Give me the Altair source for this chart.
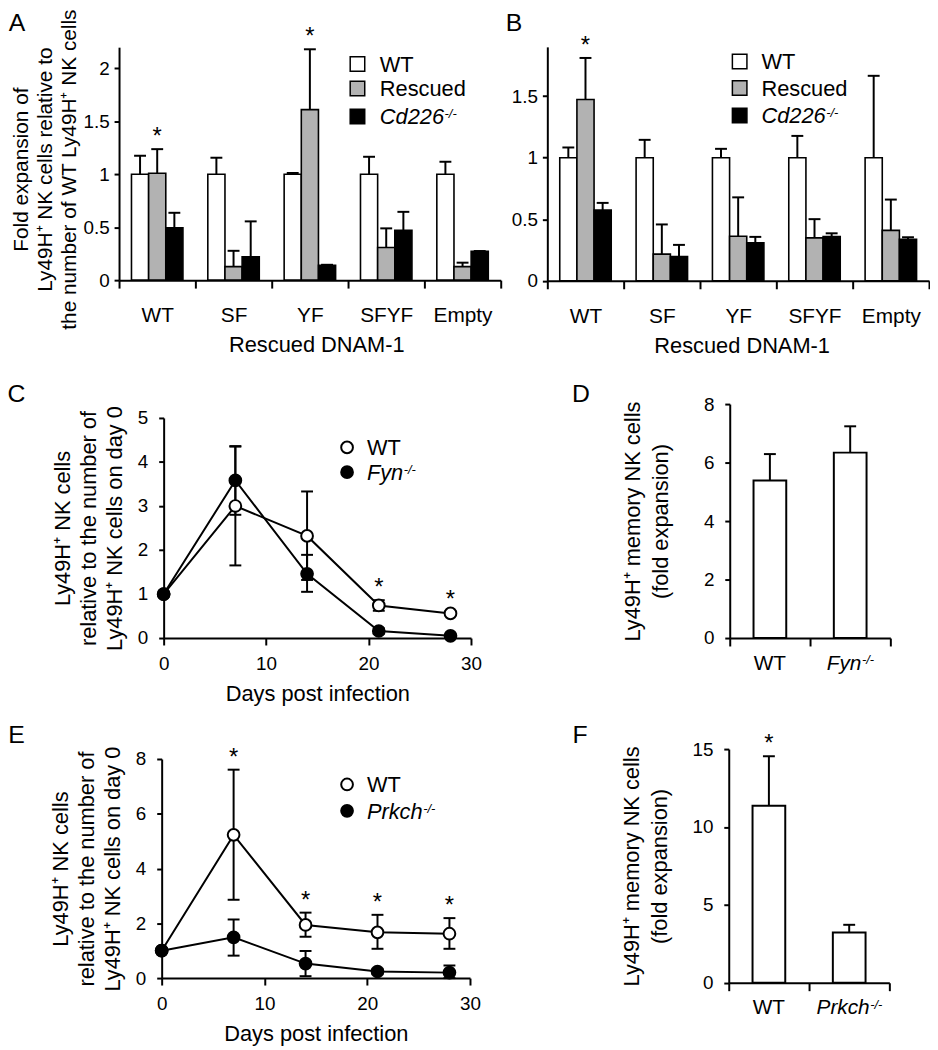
import altair as alt
import pandas as pd

FONT = "Liberation Sans"
GRAY = "#b2b2b2"
W, H = 930, 1040   # drawing area; page position = drawing position + 8

# ---------------- data ----------------
cats = ["WT", "SF", "YF", "SFYF", "Empty"]
groups = ["WT", "Rescued", "Cd226-/-"]

a_wt = [1.00, 1.00, 1.00, 1.00, 1.00]
a_wt_top = [1.174, 1.156, 1.012, 1.165, 1.118]
a_res = [1.01, 0.128, 1.61, 0.308, 0.128]
a_res_top = [1.237, 0.277, 2.18, 0.489, 0.165]
a_ko = [0.495, 0.221, 0.14, 0.47, 0.272]
a_ko_top = [0.636, 0.555, 0.145, 0.645, 0.275]
a_star_cats = ["WT", "YF"]
a_ticks = [0, 0.5, 1, 1.5, 2]

b_wt = [1.00, 1.00, 1.00, 1.00, 1.00]
b_wt_top = [1.083, 1.145, 1.072, 1.177, 1.665]
b_res = [1.472, 0.217, 0.362, 0.349, 0.41]
b_res_top = [1.81, 0.458, 0.678, 0.501, 0.66]
b_ko = [0.574, 0.198, 0.308, 0.359, 0.338]
b_ko_top = [0.633, 0.292, 0.357, 0.386, 0.354]
b_star_cats = ["WT"]
b_ticks = [0, 0.5, 1, 1.5]

days = [0, 7, 14, 21, 28]
c_wt = [1.0, 3.0, 2.32, 0.74, 0.56]
c_wt_lo = [1.0, 1.65, 1.32, 0.62, 0.52]
c_wt_hi = [1.0, 4.35, 3.33, 0.86, 0.60]
c_ko = [1.0, 3.58, 1.46, 0.16, 0.05]
c_ko_lo = [1.0, 2.80, 1.05, 0.10, 0.02]
c_ko_hi = [1.0, 4.36, 1.89, 0.22, 0.08]
c_star_days = [21, 28]
c_ticks = [0, 1, 2, 3, 4, 5]

d_cats = ["WT", "Fyn-/-"]
d_vals = [5.39, 6.34]
d_top = [6.29, 7.24]
d_ticks = [0, 2, 4, 6, 8]

e_wt = [1.0, 5.23, 1.94, 1.67, 1.62]
e_wt_lo = [1.0, 2.86, 1.51, 1.07, 1.07]
e_wt_hi = [1.0, 7.61, 2.39, 2.31, 2.19]
e_ko = [1.0, 1.49, 0.53, 0.24, 0.20]
e_ko_lo = [1.0, 0.82, 0.07, 0.14, 0.0]
e_ko_hi = [1.0, 2.14, 0.99, 0.34, 0.46]
e_star_days = [7, 14, 21, 28]
e_ticks = [0, 2, 4, 6, 8]

f_cats = ["WT", "Prkch-/-"]
f_vals = [11.36, 3.23]
f_top = [14.54, 3.72]
f_ticks = [0, 5, 10, 15]

day_ticks = [0, 10, 20, 30]

# ---------------- helpers ----------------
DUMMY = pd.DataFrame({"k": [0]})
CW = {"W": 944, "T": 611, "F": 611, "y": 500, "n": 556, "P": 667, "r": 333, "k": 500,
      "c": 500, "h": 556, "C": 722, "d": 556, "2": 556, "6": 556, "-": 333, "/": 278}


def tw(s, size):
    return sum(CW.get(ch, 556) for ch in s) / 1000.0 * size


def ax(**kw):
    base = dict(grid=False, domainColor="black", domainWidth=2, tickColor="black", tickWidth=2,
                labelColor="black", titleColor="black", labelFont=FONT, titleFont=FONT,
                labelFontSize=19, titleFontSize=22, titleFontWeight="normal", labelFlush=False)
    base.update(kw)
    return alt.Axis(**base)


def txt(s, x, y, size=22, align="left", baseline="alphabetic", italic=False):
    return alt.Chart(DUMMY).mark_text(
        text=s, font=FONT, fontSize=size, align=align, baseline=baseline,
        fontStyle="italic" if italic else "normal", color="black"
    ).encode(x=alt.value(x), y=alt.value(y))


def label_with_sup(main, sup, x, yc, size=22, sup_size=13):
    base_y = yc + 0.358 * size
    return [txt(main, x, base_y, size=size, italic=True),
            txt(sup, x + tw(main, size) + 0.5, base_y - 6, size=sup_size, italic=True)]


def letter(s, x, y):
    return txt(s, x, y, size=25, align="center", baseline="middle")


def grouped_panel(wt, wt_top, res, res_top, ko, ko_top, star_cats, ymax, ticks, ytitle,
                  xr, yr, leg_x, leg_tx, leg_ys, title_y=None, xtitle_x=None):
    rows = []
    for g, vals, tops in zip(groups, [wt, res, ko], [wt_top, res_top, ko_top]):
        for c, v, t in zip(cats, vals, tops):
            rows.append(dict(cat=c, group=g, value=v, top=t))
    df = pd.DataFrame(rows)
    stars = df[(df["group"] == "Rescued") & (df["cat"].isin(star_cats))]
    ykw = dict(values=ticks, format="~g", tickSize=5, labelPadding=5, titlePadding=3,
               titleLineHeight=24.5, titleFontSize=21, title=ytitle, orient="left", offset=-xr[0])
    if title_y is not None:
        ykw["titleY"] = title_y
    xkw = dict(title="Rescued DNAM-1", labelAngle=0, tickBand="extent", tickSize=8,
               labelPadding=17, titlePadding=9, labelFontSize=21, orient="bottom",
               offset=-(H - yr[0]))
    if xtitle_x is not None:
        xkw["titleX"] = xtitle_x
    X = alt.X("cat:N", sort=cats, scale=alt.Scale(paddingInner=0, paddingOuter=0, range=list(xr)),
              axis=ax(**xkw))
    XO = alt.XOffset("group:N", sort=groups, scale=alt.Scale(paddingInner=0, paddingOuter=0.725))

    def Y(f):
        return alt.Y(f, type="quantitative",
                     scale=alt.Scale(domain=[0, ymax], nice=False, range=list(yr)),
                     axis=ax(**ykw))

    base = alt.Chart(df)
    bars = base.mark_bar(stroke="black", strokeWidth=1.6).encode(
        x=X, xOffset=XO, y=Y("value"),
        fill=alt.Fill("group:N", scale=alt.Scale(domain=groups, range=["white", GRAY, "black"]),
                      legend=None))
    err = base.mark_rule(color="black", strokeWidth=2).encode(
        x=X, xOffset=XO, y=Y("value"), y2="top:Q")
    cap = base.mark_tick(color="black", orient="horizontal", size=12, thickness=2, opacity=1).encode(
        x=X, xOffset=XO, y=Y("top"))
    star = alt.Chart(stars).mark_text(text="*", font=FONT, fontSize=24, baseline="bottom",
                                      color="black").encode(x=X, xOffset=XO, y=Y("top"))
    return alt.layer(bars, err, cap, star), legend_squares(leg_x, leg_tx, leg_ys)


def legend_squares(leg_x, leg_tx, leg_ys):
    layers = []
    for fcol, y in zip(["white", GRAY, "black"], leg_ys):
        layers.append(alt.Chart(DUMMY).mark_square(size=215, fill=fcol, stroke="black",
                                                   strokeWidth=1.5, opacity=1).encode(
            x=alt.value(leg_x), y=alt.value(y)))
    layers.append(txt("WT", leg_tx, leg_ys[0] + 7.9))
    layers.append(txt("Rescued", leg_tx, leg_ys[1] + 7.9))
    layers += label_with_sup("Cd226", "-/-", leg_tx, leg_ys[2])
    return layers


def line_panel(wt, wt_lo, wt_hi, ko, ko_lo, ko_hi, ko_name, star_days, ymax, ticks,
               xr, yr, leg_x, leg_tx, leg_ys):
    rows = []
    for s, v, lo, hi in [("WT", wt, wt_lo, wt_hi), (ko_name, ko, ko_lo, ko_hi)]:
        for d, a, b, c in zip(days, v, lo, hi):
            rows.append(dict(day=d, series=s, value=a, lo=b, hi=c))
    df = pd.DataFrame(rows)
    stars = df[(df["series"] == "WT") & (df["day"].isin(star_days))]
    X = alt.X("day:Q", scale=alt.Scale(domain=[0, 30], nice=False, range=list(xr)),
              axis=ax(values=day_ticks, title="Days post infection", tickSize=7,
                      labelPadding=9.5, titlePadding=10.5, orient="bottom", offset=-(H - yr[0])))
    ytitle = ["Ly49H\u207a NK cells", "relative to the number of", "Ly49H\u207a NK cells on day 0"]

    def Y(f):
        return alt.Y(f, type="quantitative",
                     scale=alt.Scale(domain=[0, ymax], nice=False, range=list(yr)),
                     axis=ax(values=ticks, title=ytitle, tickSize=5, labelPadding=11,
                             titlePadding=11, titleLineHeight=26, orient="left", offset=-xr[0]))

    base = alt.Chart(df)
    line = base.mark_line(color="black", strokeWidth=2).encode(x=X, y=Y("value"), detail="series:N")
    err = base.mark_rule(color="black", strokeWidth=2).encode(x=X, y=Y("lo"), y2="hi:Q")
    cap_hi = base.mark_tick(color="black", orient="horizontal", size=12, thickness=2, opacity=1).encode(
        x=X, y=Y("hi"))
    cap_lo = base.mark_tick(color="black", orient="horizontal", size=12, thickness=2, opacity=1).encode(
        x=X, y=Y("lo"))
    pts_wt = base.transform_filter(alt.datum.series == "WT").mark_circle(
        size=140, fill="white", stroke="black", strokeWidth=2, opacity=1).encode(x=X, y=Y("value"))
    pts_ko = base.transform_filter(alt.datum.series == ko_name).mark_circle(
        size=140, fill="black", stroke="black", strokeWidth=2, opacity=1).encode(x=X, y=Y("value"))
    star = alt.Chart(stars).mark_text(text="*", font=FONT, fontSize=24, baseline="bottom",
                                      color="black").encode(x=X, y=Y("hi"))
    legend = []
    for fcol, y in zip(["white", "black"], leg_ys):
        legend.append(alt.Chart(DUMMY).mark_circle(size=140, fill=fcol, stroke="black",
                                                   strokeWidth=2, opacity=1).encode(
            x=alt.value(leg_x), y=alt.value(y)))
    legend.append(txt("WT", leg_tx, leg_ys[0] + 7.9))
    legend += label_with_sup(ko_name, "-/-", leg_tx, leg_ys[1])
    return alt.layer(line, err, cap_hi, cap_lo, pts_wt, pts_ko, star), legend


def bar2_panel(cats2, vals, tops, star_cats, ymax, ticks, tpad, xr, yr):
    df = pd.DataFrame({"cat": cats2, "value": vals, "top": tops,
                       "main": [c.replace("-/-", "") for c in cats2]})
    stars = df[df["cat"].isin(star_cats)]
    X = alt.X("cat:N", sort=cats2, scale=alt.Scale(paddingInner=0, paddingOuter=0, range=list(xr)),
              axis=ax(labels=False, title=None, tickBand="extent", tickSize=8, orient="bottom",
                      offset=-(H - yr[0])))
    ytitle = ["Ly49H\u207a memory NK cells", "(fold expansion)"]

    def Y(f):
        return alt.Y(f, type="quantitative",
                     scale=alt.Scale(domain=[0, ymax], nice=False, range=list(yr)),
                     axis=ax(values=ticks, title=ytitle, tickSize=5, labelPadding=11,
                             titlePadding=tpad, titleLineHeight=28, orient="left", offset=-xr[0]))

    base = alt.Chart(df)
    bars = base.mark_bar(width=33, fill="white", stroke="black", strokeWidth=2).encode(x=X, y=Y("value"))
    err = base.mark_rule(color="black", strokeWidth=2).encode(x=X, y=Y("value"), y2="top:Q")
    cap = base.mark_tick(color="black", orient="horizontal", size=12, thickness=2, opacity=1).encode(
        x=X, y=Y("top"))
    layers = [bars, err, cap]
    if len(stars):
        layers.append(alt.Chart(stars).mark_text(text="*", font=FONT, fontSize=24, baseline="bottom",
                                                 color="black").encode(x=X, y=Y("top")))
    ly = yr[0] + 32
    layers.append(base.transform_filter(alt.datum.cat == cats2[0]).mark_text(
        font=FONT, fontSize=21, align="center", baseline="alphabetic", color="black").encode(
        x=X, y=alt.value(ly), text="main:N"))
    mut = cats2[1].replace("-/-", "")
    wm = tw(mut, 21)
    T = wm + tw("-/-", 13)
    layers.append(base.transform_filter(alt.datum.cat == cats2[1]).mark_text(
        font=FONT, fontSize=21, align="left", baseline="alphabetic", fontStyle="italic",
        dx=-T / 2, color="black").encode(x=X, y=alt.value(ly), text="main:N"))
    layers.append(base.transform_filter(alt.datum.cat == cats2[1]).mark_text(
        text="-/-", font=FONT, fontSize=13, align="left", baseline="alphabetic", fontStyle="italic",
        dx=-T / 2 + wm + 0.5, color="black").encode(x=X, y=alt.value(ly - 6)))
    return alt.layer(*layers)


# ---------------- panels (pixel ranges in drawing coordinates) ----------------
A, legA = grouped_panel(a_wt, a_wt_top, a_res, a_res_top, a_ko, a_ko_top, a_star_cats, 2.2, a_ticks,
                        ["Fold expansion of", "Ly49H\u207a NK cells relative to",
                         "the number of WT Ly49H\u207a NK cells"],
                        (112, 497), (270, 35), 352.5, 375, [52, 76.7, 105], title_y=158,
                        xtitle_x=311)
B, legB = grouped_panel(b_wt, b_wt_top, b_res, b_res_top, b_ko, b_ko_top, b_star_cats, 1.9, b_ticks,
                        None, (544, 929), (270.7, 34.7), 738, 760, [49.5, 76.2, 104],
                        xtitle_x=740)
C, legC = line_panel(c_wt, c_wt_lo, c_wt_hi, c_ko, c_ko_lo, c_ko_hi, "Fyn", c_star_days, 5, c_ticks,
                     (157, 467), (631, 409), 342, 362, [438.7, 463.7])
D = bar2_panel(d_cats, d_vals, d_top, [], 8, d_ticks, 31, (728, 890), (631, 395))
E, legE = line_panel(e_wt, e_wt_lo, e_wt_hi, e_ko, e_ko_lo, e_ko_hi, "Prkch", e_star_days, 8, e_ticks,
                     (155, 466), (974, 753), 342, 362, [778.7, 805.3])
F = bar2_panel(f_cats, f_vals, f_top, ["WT"], 15, f_ticks, 21, (727, 889), (978.7, 743))

decor = legA + legB + legC + legE + [
    letter("A", 9, 10.5), letter("B", 510.5, 10.5), letter("C", 8.5, 384.5),
    letter("D", 578, 384.5), letter("E", 8.5, 728.5), letter("F", 577, 728.5)]

chart = alt.layer(A, B, C, D, E, F, *decor).resolve_scale(
    x="independent", y="independent", xOffset="independent"
).properties(
    width=W, height=H, padding=0,
    autosize=alt.AutoSizeParams(type="none")
).configure_view(stroke=None)

chart.save("out.html", embed_options={"renderer": "svg", "actions": False})
